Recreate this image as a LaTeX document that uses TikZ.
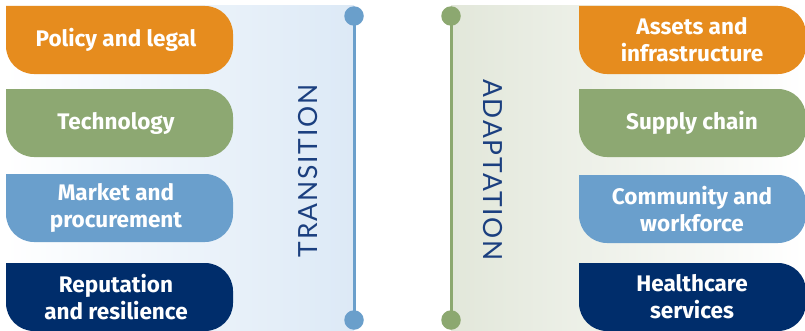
\documentclass[tikz,border=0pt]{standalone}
\usepackage{fontspec}
\setmainfont{Fira Sans}
\newfontfamily\thinfont[LetterSpace=7]{Lato}
\definecolor{cOrange}{HTML}{E68C1E}
\definecolor{cGreen}{HTML}{8DA872}
\definecolor{cLight}{HTML}{6A9FCC}
\definecolor{cNavy}{HTML}{002D6B}
\definecolor{cText}{HTML}{1B3F7F}
\definecolor{lineBlue}{HTML}{6A9FCB}
\definecolor{lineGreen}{HTML}{8CA870}
\definecolor{panelBlue}{HTML}{DCE9F6}
\definecolor{panelGreen}{HTML}{E2E7DA}
\newcommand\tabshape[5]{%
  \fill[#5] (#1,#3) -- ({#2-28},#3) arc[start angle=90,end angle=0,radius=28]
    -- (#2,{#4+28}) arc[start angle=0,end angle=-90,radius=28]
    -- ({#1+28},#4) arc[start angle=270,end angle=180,radius=28] -- cycle;}
\tikzset{
  boxtext/.style={text=white,align=center,font=\fontsize{22.6}{27}\selectfont\bfseries,inner sep=0pt},
  sidetext/.style={text=cText,font=\thinfont\fontsize{26.5}{30}\selectfont,inner sep=0pt},
  dotnode/.style={circle,inner sep=0pt,minimum size=19.5bp,fill=#1},
}
\begin{document}
\begin{tikzpicture}[x=1bp,y=1bp]
\useasboundingbox (0,0) rectangle (805,330);
% panels
\shade[left color=white,right color=panelBlue] (6,324) rectangle (354,0);
\shade[left color=panelGreen,right color=white] (451,324) rectangle (805,0);
% left boxes
\tabshape{6}{233}{324}{256}{cOrange}
\tabshape{6}{233}{241}{173}{cGreen}
\tabshape{6}{233}{156}{88}{cLight}
\tabshape{6}{233}{67}{-1}{cNavy}
% right boxes
\tabshape{579}{806}{324}{256}{cOrange}
\tabshape{579}{806}{241}{173}{cGreen}
\tabshape{579}{806}{155}{87}{cLight}
\tabshape{579}{806}{67}{-1}{cNavy}
% box texts
\node[boxtext] (l1) at (116,290) {Policy and legal};
\node[boxtext] (l2) at (116,207) {Technology};
\node[boxtext] (l3) at (116,122) {Market and\\procurement};
\node[boxtext] (l4) at (116,33) {Reputation\\and resilience};
\node[boxtext] (r1) at (692,290) {Assets and\\infrastructure};
\node[boxtext] (r2) at (692,207) {Supply chain};
\node[boxtext] (r3) at (692,121) {Community and\\workforce};
\node[boxtext] (r4) at (692,33) {Healthcare\\services};
% side labels
\node[sidetext,rotate=90] (tr) at (308,159) {TRANSITION};
\node[sidetext,rotate=-90] (ad) at (493,160) {ADAPTATION};
% lines with dots
\coordinate (lt) at (354,314);
\coordinate (lb) at (354,10);
\coordinate (rt) at (451,314);
\coordinate (rb) at (451,10);
\draw[lineBlue,line width=3bp] (lt) -- (lb);
\draw[lineGreen,line width=3bp] (rt) -- (rb);
\node[dotnode=lineBlue] (ltd) at (lt) {};
\node[dotnode=lineBlue] (lbd) at (lb) {};
\node[dotnode=lineGreen] (rtd) at (rt) {};
\node[dotnode=lineGreen] (rbd) at (rb) {};
\end{tikzpicture}
\end{document}
